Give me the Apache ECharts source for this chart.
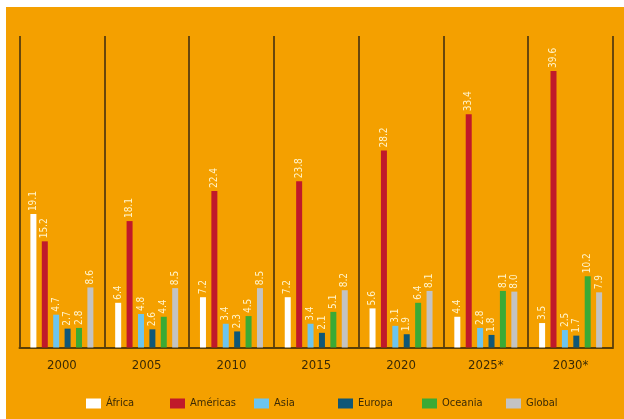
<!DOCTYPE html>
<html>
<head>
<meta charset="utf-8">
<script src="https://cdn.jsdelivr.net/npm/echarts@6/dist/echarts.min.js"></script>
<style>
  html, body { margin: 0; padding: 0; background: #fff; }
  #chart { width: 624px; height: 419px; }
</style>
</head>
<body>
<div id="chart"></div>
<script>
// data
var years = ['2000', '2005', '2010', '2015', '2020', '2025*', '2030*'];
var africa   = [19.1, 6.4, 7.2, 7.2, 5.6, 4.4, 3.5];
var americas = [15.2, 18.1, 22.4, 23.8, 28.2, 33.4, 39.6];
var asia     = [4.7, 4.8, 3.4, 3.4, 3.1, 2.8, 2.5];
var europa   = [2.7, 2.6, 2.3, 2.1, 1.9, 1.8, 1.7];
var oceania  = [2.8, 4.4, 4.5, 5.1, 6.4, 8.1, 10.2];
var global   = [8.6, 8.5, 8.5, 8.2, 8.1, 8.0, 7.9];

var names = ['África', 'Américas', 'Asia', 'Europa', 'Oceania', 'Global'];
var colors = ['#ffffff', '#c0192a', '#6cc5ef', '#0f5777', '#3aaa35', '#c3c3c3'];
var values = [africa, americas, asia, europa, oceania, global];

var font = '"DejaVu Sans Condensed", "Liberation Sans Narrow", sans-serif';

var mychart = echarts.init(document.getElementById('chart'));

var series = names.map(function (n, i) {
    return {
        name: n,
        type: 'bar',
        data: values[i],
        barWidth: 6,
        barGap: '90%',
        itemStyle: { color: colors[i] },
        label: {
            show: true,
            position: 'top',
            rotate: 90,
            align: 'left',
            verticalAlign: 'middle',
            distance: 3,
            color: '#fff4cc',
            fontFamily: font,
            fontSize: 10,
            formatter: function (p) { return p.value.toFixed(1); }
        }
    };
});

// one legend per item so they sit on an even 84px step
var legends = names.map(function (n, i) {
    return {
        left: 81 + i * 84,
        top: 393,
        itemWidth: 15,
        itemHeight: 10,
        icon: 'rect',
        textStyle: { color: '#3b2a05', fontFamily: font, fontSize: 11 },
        data: [n]
    };
});

option = {
    backgroundColor: '#ffffff',
    color: colors,
    graphic: [{
        type: 'rect',
        z: -100,
        silent: true,
        shape: { x: 6, y: 7, width: 618, height: 412 },
        style: { fill: '#f4a000' }
    }],
    legend: legends,
    grid: {
        left: 19.5,
        right: 11,
        top: 36,
        bottom: 71.5
    },
    xAxis: {
        type: 'category',
        data: years,
        axisLine: { show: true, lineStyle: { color: '#5a3e05', width: 2 } },
        axisTick: { show: false },
        splitLine: { show: true, lineStyle: { color: '#3a2a10', width: 1.5 } },
        axisLabel: {
            color: '#3b2a05',
            fontFamily: font,
            fontSize: 13,
            margin: 12
        }
    },
    yAxis: {
        type: 'value',
        min: 0,
        max: 44.6,
        show: false,
        splitLine: { show: false }
    },
    series: series
};
mychart.setOption(option);
</script>
</body>
</html>
